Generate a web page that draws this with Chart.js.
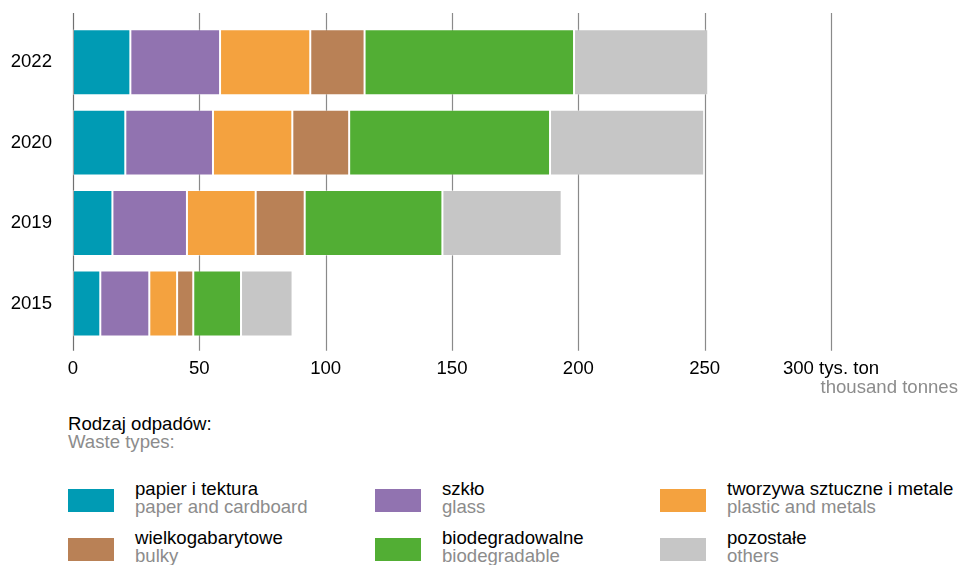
<!DOCTYPE html>
<html>
<head>
<meta charset="utf-8">
<script src="https://cdn.jsdelivr.net/npm/chart.js@4.4.1/dist/chart.umd.min.js"></script>
<style>
  html, body { margin: 0; padding: 0; background: #fff; }
  body { width: 961px; height: 565px; position: relative; overflow: hidden;
         font-family: 'Liberation Sans', Arial, sans-serif; font-size: 18.6px; }
  #wrap { position: absolute; left: 0; top: 0; width: 961px; height: 400px; }
  .t { position: absolute; line-height: 18px; white-space: nowrap; color: #000; }
  .g { color: #8c8c8c; }
  .sw { position: absolute; width: 46px; height: 23px; }
</style>
</head>
<body>
<div id="wrap"><canvas id="chart"></canvas></div>

<div class="t" style="left:68px; top:415px;">Rodzaj odpadów:<br><span class="g">Waste types:</span></div>
<div id="legend"></div>

<script>
// values in thousand tonnes
const years = ['2022', '2020', '2019', '2015'];
const paper = [22.7, 20.7, 15.6, 10.8];
const glass = [35.5, 34.7, 29.5, 19.4];
const plastic = [35.7, 31.4, 27.2, 11.0];
const bulky = [21.5, 22.5, 19.4, 6.4];
const bio = [82.9, 79.5, 54.5, 18.9];
const others = [53.1, 61.0, 47.2, 20.4];

const xTicks = [0, 50, 100, 150, 200, 250, 300];

const series = [
    { pl: 'papier i tektura', en: 'paper and cardboard', data: paper, color: '#009bb4' },
    { pl: 'szkło', en: 'glass', data: glass, color: '#9173b0' },
    { pl: 'tworzywa sztuczne i metale', en: 'plastic and metals', data: plastic, color: '#f4a23f' },
    { pl: 'wielkogabarytowe', en: 'bulky', data: bulky, color: '#b98156' },
    { pl: 'biodegradowalne', en: 'biodegradable', data: bio, color: '#52ae34' },
    { pl: 'pozostałe', en: 'others', data: others, color: '#c6c6c6' }
];

// legend (3 columns x 2 rows)
const legend = document.getElementById('legend');
const colX = [68, 375, 660];
const rowY = [489, 538];
series.forEach(function (s, i) {
    const col = i % 3, row = Math.floor(i / 3);
    const sw = document.createElement('div');
    sw.className = 'sw';
    sw.style.left = colX[col] + 'px';
    sw.style.top = rowY[row] + 'px';
    sw.style.background = s.color;
    legend.appendChild(sw);
    const tx = document.createElement('div');
    tx.className = 't';
    tx.style.left = (colX[col] + 67) + 'px';
    tx.style.top = (rowY[row] - 9) + 'px';
    tx.innerHTML = s.pl + '<br><span class="g">' + s.en + '</span>';
    legend.appendChild(tx);
});

const FONT = '"Liberation Sans", Arial, sans-serif';

// grid lines reach a bit above and below the plot area
const gridPlugin = {
    id: 'grid',
    beforeDatasetsDraw(chart) {
        const ctx = chart.ctx, x = chart.scales.x, area = chart.chartArea;
        ctx.save();
        xTicks.forEach(function (v) {
            const px = Math.round(x.getPixelForValue(v)) + 0.5;
            ctx.strokeStyle = v === 0 ? '#707070' : '#8a8a8a';
            ctx.lineWidth = 1.2;
            ctx.beginPath();
            ctx.moveTo(px, area.top - 9);
            ctx.lineTo(px, area.bottom + 7);
            ctx.stroke();
        });
        ctx.restore();
    },
    afterDraw(chart) {
        const ctx = chart.ctx;
        ctx.save();
        ctx.font = '18.6px ' + FONT;
        ctx.fillStyle = '#8c8c8c';
        ctx.textAlign = 'right';
        ctx.textBaseline = 'alphabetic';
        ctx.fillText('thousand tonnes', 958, 393);
        ctx.restore();
    }
};

new Chart(document.getElementById('chart').getContext('2d'), {
    type: 'bar',
    data: {
        labels: years,
        datasets: series.map(function (s) {
            return {
                label: s.pl,
                data: s.data,
                backgroundColor: s.color,
                borderColor: 'rgba(255,255,255,0.35)',
                borderWidth: 1,
                borderSkipped: false,
                barPercentage: 0.82,
                categoryPercentage: 1
            };
        })
    },
    options: {
        indexAxis: 'y',
        responsive: true,
        maintainAspectRatio: false,
        animation: false,
        layout: { padding: { top: 22, left: 10, right: 130, bottom: 12 } },
        plugins: { legend: { display: false }, tooltip: { enabled: false } },
        scales: {
            x: {
                stacked: true,
                min: 0,
                max: 300,
                grid: { display: false, tickLength: 6 },
                border: { display: false },
                ticks: {
                    stepSize: 50,
                    color: '#000',
                    padding: 8,
                    maxRotation: 0,
                    font: { family: FONT, size: 18.6 },
                    callback: function (v) { return v === 300 ? '300 tys. ton' : String(v); }
                }
            },
            y: {
                stacked: true,
                grid: { display: false, drawTicks: false },
                border: { display: false },
                ticks: {
                    color: '#000',
                    padding: 21,
                    font: { family: FONT, size: 18.6 }
                },
                afterFit: function (scale) {
                    scale.width = 63;
                    scale.paddingTop = 0;
                    scale.paddingBottom = 0;
                }
            }
        }
    },
    plugins: [gridPlugin]
});
</script>
</body>
</html>
